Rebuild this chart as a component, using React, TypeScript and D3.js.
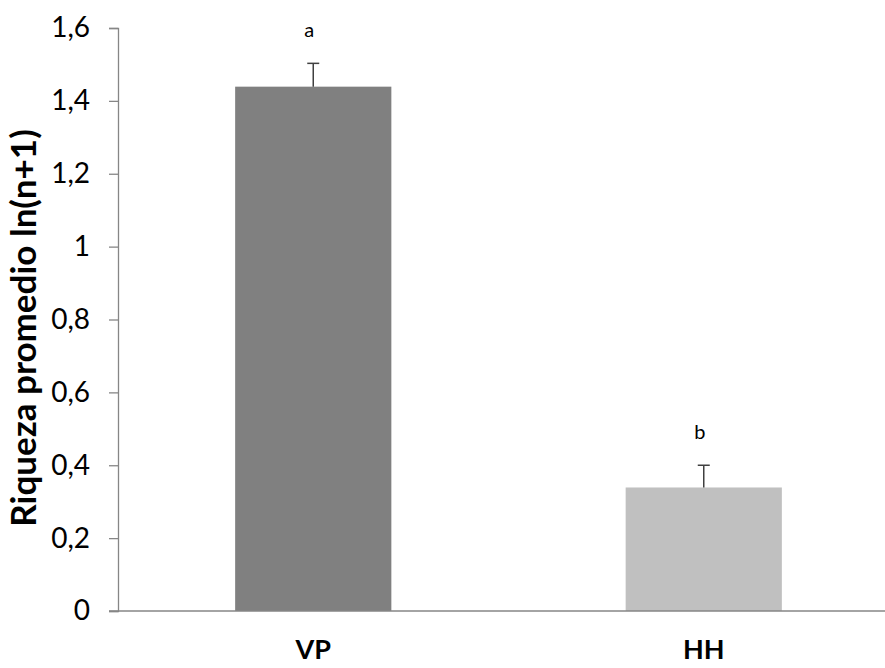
import React, { useRef, useEffect } from "react";
import * as d3 from "d3";

const categories = ["VP", "HH"];
const means = [1.439, 0.339];
const errors = [0.064, 0.061];
const letters = ["a", "b"];
const barColors = ["#808080", "#c0c0c0"];
const yTicks = [0, 0.2, 0.4, 0.6, 0.8, 1, 1.2, 1.4, 1.6];

const App = () => {
  const svgRef = useRef<SVGSVGElement>(null);

  useEffect(() => {
    const width = 885;
    const height = 668;
    const margin = { top: 28, right: -14, bottom: 57, left: 118 };
    const font = "Lato, 'Open Sans', sans-serif";

    const svg = d3.select(svgRef.current);
    svg.selectAll("*").remove();
    svg.attr("width", width).attr("height", height).style("background", "#fff");

    const x = d3
      .scaleBand()
      .domain(categories)
      .range([margin.left, width - margin.right])
      .paddingInner(0.6)
      .paddingOuter(0.3);

    const y = d3
      .scaleLinear()
      .domain([0, 1.6])
      .range([height - margin.bottom, margin.top]);

    // y axis
    const yAxis = svg
      .append("g")
      .attr("transform", `translate(${margin.left},0)`)
      .call(
        d3
          .axisLeft(y)
          .tickValues(yTicks)
          .tickSize(9)
          .tickPadding(19)
          .tickFormat((d) => d3.format("")(d as number).replace(".", ","))
      );
    yAxis.select(".domain").attr("stroke", "#868686").attr("stroke-width", 1.3);
    yAxis.selectAll(".tick line").attr("stroke", "#868686").attr("stroke-width", 1.3);
    yAxis
      .selectAll(".tick text")
      .attr("fill", "#000")
      .style("font-family", font)
      .style("font-size", "28px");

    // bars
    svg
      .selectAll(".bar")
      .data(categories)
      .enter()
      .append("rect")
      .attr("class", "bar")
      .attr("x", (d) => x(d)!)
      .attr("y", (d, i) => y(means[i]))
      .attr("width", x.bandwidth())
      .attr("height", (d, i) => y(0) - y(means[i]))
      .attr("fill", (d, i) => barColors[i]);

    // error bars (upper only)
    const cap = 6;
    categories.forEach((c, i) => {
      const cx = x(c)! + x.bandwidth() / 2;
      const g = svg.append("g").attr("stroke", "#404040").attr("stroke-width", 1.5);
      g.append("line")
        .attr("x1", cx)
        .attr("x2", cx)
        .attr("y1", y(means[i]))
        .attr("y2", y(means[i] + errors[i]));
      g.append("line")
        .attr("x1", cx - cap)
        .attr("x2", cx + cap)
        .attr("y1", y(means[i] + errors[i]))
        .attr("y2", y(means[i] + errors[i]));

      svg
        .append("text")
        .attr("x", cx - 4)
        .attr("y", y(means[i] + errors[i]) - 26)
        .attr("text-anchor", "middle")
        .style("font-family", font)
        .style("font-size", "20px")
        .attr("fill", "#000")
        .text(letters[i]);
    });

    // x axis baseline
    svg
      .append("line")
      .attr("x1", margin.left - 9)
      .attr("x2", width)
      .attr("y1", y(0))
      .attr("y2", y(0))
      .attr("stroke", "#868686")
      .attr("stroke-width", 1.3);

    // x labels
    svg
      .selectAll(".xlabel")
      .data(categories)
      .enter()
      .append("text")
      .attr("class", "xlabel")
      .attr("x", (d) => x(d)! + x.bandwidth() / 2)
      .attr("y", 659)
      .attr("text-anchor", "middle")
      .style("font-family", font)
      .style("font-size", "27px")
      .style("font-weight", "bold")
      .attr("fill", "#000")
      .text((d) => d);

    // y title
    svg
      .append("text")
      .attr("transform", `translate(36,328) rotate(-90)`)
      .attr("text-anchor", "middle")
      .style("font-family", font)
      .style("font-size", "35px")
      .style("font-weight", "bold")
      .attr("fill", "#000")
      .text("Riqueza promedio ln(n+1)");
  }, []);

  return (
    <div style={{ position: "absolute", left: 0, top: 0 }}>
      <svg ref={svgRef}></svg>
    </div>
  );
};

export default App;
